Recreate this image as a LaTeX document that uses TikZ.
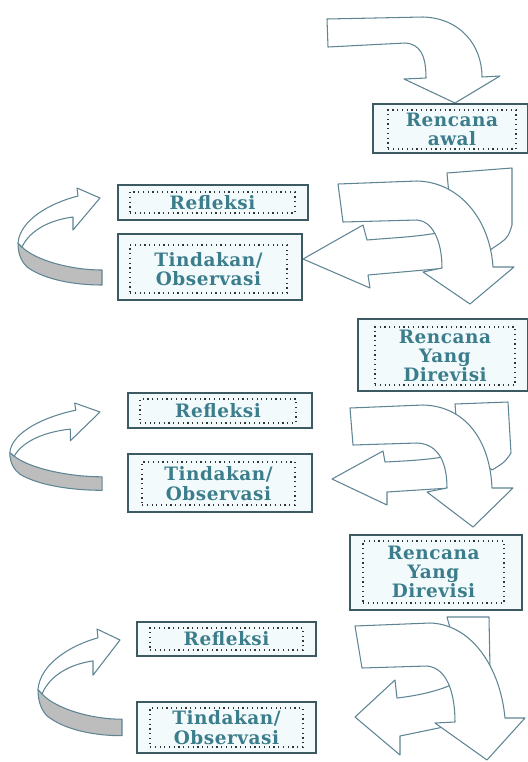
\documentclass[tikz,border=0pt]{standalone}
\usepackage{fontspec}
\setmainfont{DejaVu Serif}
\definecolor{garis}{HTML}{3D5A63}
\definecolor{isi}{HTML}{F2FAFC}
\definecolor{teks}{HTML}{3C7D8C}
\definecolor{tepi}{HTML}{5E8593}
\definecolor{abu}{HTML}{BDBDBD}
\tikzset{
  kotak/.style={draw=garis, fill=isi, line width=0.8pt, inner sep=0pt},
  isikotak/.style={draw=black!80, dotted, line width=0.7pt, inner sep=0pt, align=center,
    text=teks, font=\fontsize{10.5}{11}\selectfont\bfseries\addfontfeatures{LetterSpace=3}},
  panah/.style={draw=tepi, fill=white, line width=0.6pt, line join=round},
  pita/.style={draw=tepi, fill=abu, line width=0.6pt, line join=round},
  putaran/.pic={
    \filldraw[pita] (-82,45) .. controls (-82,57) and (-78,64) .. (-73,69)
      .. controls (-55,82) and (-25,87) .. (2,87) -- (2,72)
      .. controls (-30,72) and (-65,62) .. (-78,49) -- cycle;
    \filldraw[panah] (0,0) -- (-23,-10) -- (-22,-2)
      .. controls (-50,5) and (-80,22) .. (-82,45) -- (-78,49)
      .. controls (-70,32) and (-50,22) .. (-27,19) -- (-27,32) -- cycle;
  }
}
\begin{document}
\begin{tikzpicture}[x=0.02cm, y=-0.02cm]
  \useasboundingbox (0,0) rectangle (528,762);

  % Panah awal
  \filldraw[panah] (327,19) -- (423,17) .. controls (460,18) and (482,45) .. (482,77)
    -- (500,76) -- (455,103) -- (404,79) -- (426,78)
    .. controls (426,55) and (420,44) .. (405,43) -- (328,47) -- cycle;
  \node[kotak, minimum width=3.1cm, minimum height=0.98cm] (awal) at (450.5,128.5) {};
  \node[isikotak, minimum width=2.56cm, minimum height=0.78cm] (awalT) at (452,129.5) {Rencana\\awal};

  % Siklus 1
  \filldraw[panah] (447,173) -- (512,168) -- (512,225) .. controls (508,238) .. (490,250)
    -- (440,205) -- (449,195) -- cycle;
  \filldraw[panah] (303,259) -- (363,225) -- (367,240) .. controls (390,238) and (415,237) .. (437,233)
    -- (450,255) -- (447,268) -- (368,275) -- (370,288) -- cycle;
  \filldraw[panah] (338,184) -- (417,181) .. controls (460,182) and (490,220) .. (493,267)
    -- (514,267) -- (470,304) -- (423,272) -- (442,268)
    .. controls (442,240) and (432,221) .. (417,220) -- (343,222) -- cycle;
  \pic at (100,198) {putaran};
  \node[kotak, minimum width=3.8cm, minimum height=0.7cm] (refl1) at (213,202.5) {};
  \node[isikotak, minimum width=3.3cm, minimum height=0.42cm] (refl1T) at (212.5,202.5) {Refleksi};
  \node[kotak, minimum width=3.68cm, minimum height=1.32cm] (tind1) at (210,267) {};
  \node[isikotak, minimum width=3.14cm, minimum height=0.96cm] (tind1T) at (208.5,269) {Tindakan/\\Observasi};
  \node[kotak, minimum width=3.4cm, minimum height=1.44cm] (rev1) at (443,355) {};
  \node[isikotak, minimum width=2.8cm, minimum height=1.16cm] (rev1T) at (445,356) {Rencana\\Yang\\Direvisi};

  % Siklus 2
  \filldraw[panah] (455,404) -- (508,402) -- (511,453) .. controls (505,462) .. (492,470)
    -- (445,430) -- (456,416) -- cycle;
  \filldraw[panah] (332,479) -- (383,451) -- (385,462) .. controls (405,461) and (425,460) .. (443,457)
    -- (452,475) -- (450,488) -- (387,492) -- (387,505) -- cycle;
  \filldraw[panah] (350,408) -- (423,405) .. controls (465,406) and (490,440) .. (492,488)
    -- (513,488) -- (473,527) -- (427,492) -- (447,488)
    .. controls (447,465) and (440,444) .. (417,443) -- (353,445) -- cycle;
  \pic[xscale=1.1, yscale=0.9] at (100,412) {putaran};
  \node[kotak, minimum width=3.68cm, minimum height=0.7cm] (refl2) at (220,410.5) {};
  \node[isikotak, minimum width=3.12cm, minimum height=0.48cm] (refl2T) at (218,411) {Refleksi};
  \node[kotak, minimum width=3.68cm, minimum height=1.16cm] (tind2) at (220,483) {};
  \node[isikotak, minimum width=3.06cm, minimum height=0.86cm] (tind2T) at (218.5,483.5) {Tindakan/\\Observasi};
  \node[kotak, minimum width=3.44cm, minimum height=1.5cm] (rev2) at (436,572.5) {};
  \node[isikotak, minimum width=2.82cm, minimum height=1.24cm] (rev2T) at (433.5,572) {Rencana\\Yang\\Direvisi};

  % Siklus 3
  \filldraw[panah] (447,617) -- (489,617) -- (490,668) -- (452,650) -- (452,635) -- cycle;
  \filldraw[panah] (355,717) -- (395,680) -- (397,698) .. controls (415,696) and (435,692) .. (451,685)
    -- (460,705) -- (458,724) -- (400,736) -- (400,755) -- cycle;
  \filldraw[panah] (355,626) -- (430,623) .. controls (470,624) and (500,665) .. (505,718)
    -- (525,718) -- (487,760) -- (435,723) -- (455,722)
    .. controls (455,695) and (448,668) .. (427,666) -- (362,668) -- cycle;
  \pic[yscale=1.1] at (120,640) {putaran};
  \node[kotak, minimum width=3.58cm, minimum height=0.68cm] (refl3) at (226.5,639) {};
  \node[isikotak, minimum width=3.06cm, minimum height=0.44cm] (refl3T) at (226.5,639) {Refleksi};
  \node[kotak, minimum width=3.58cm, minimum height=1.02cm] (tind3) at (226.5,727.5) {};
  \node[isikotak, minimum width=3.06cm, minimum height=0.78cm] (tind3T) at (226.5,727.5) {Tindakan/\\Observasi};
\end{tikzpicture}
\end{document}
